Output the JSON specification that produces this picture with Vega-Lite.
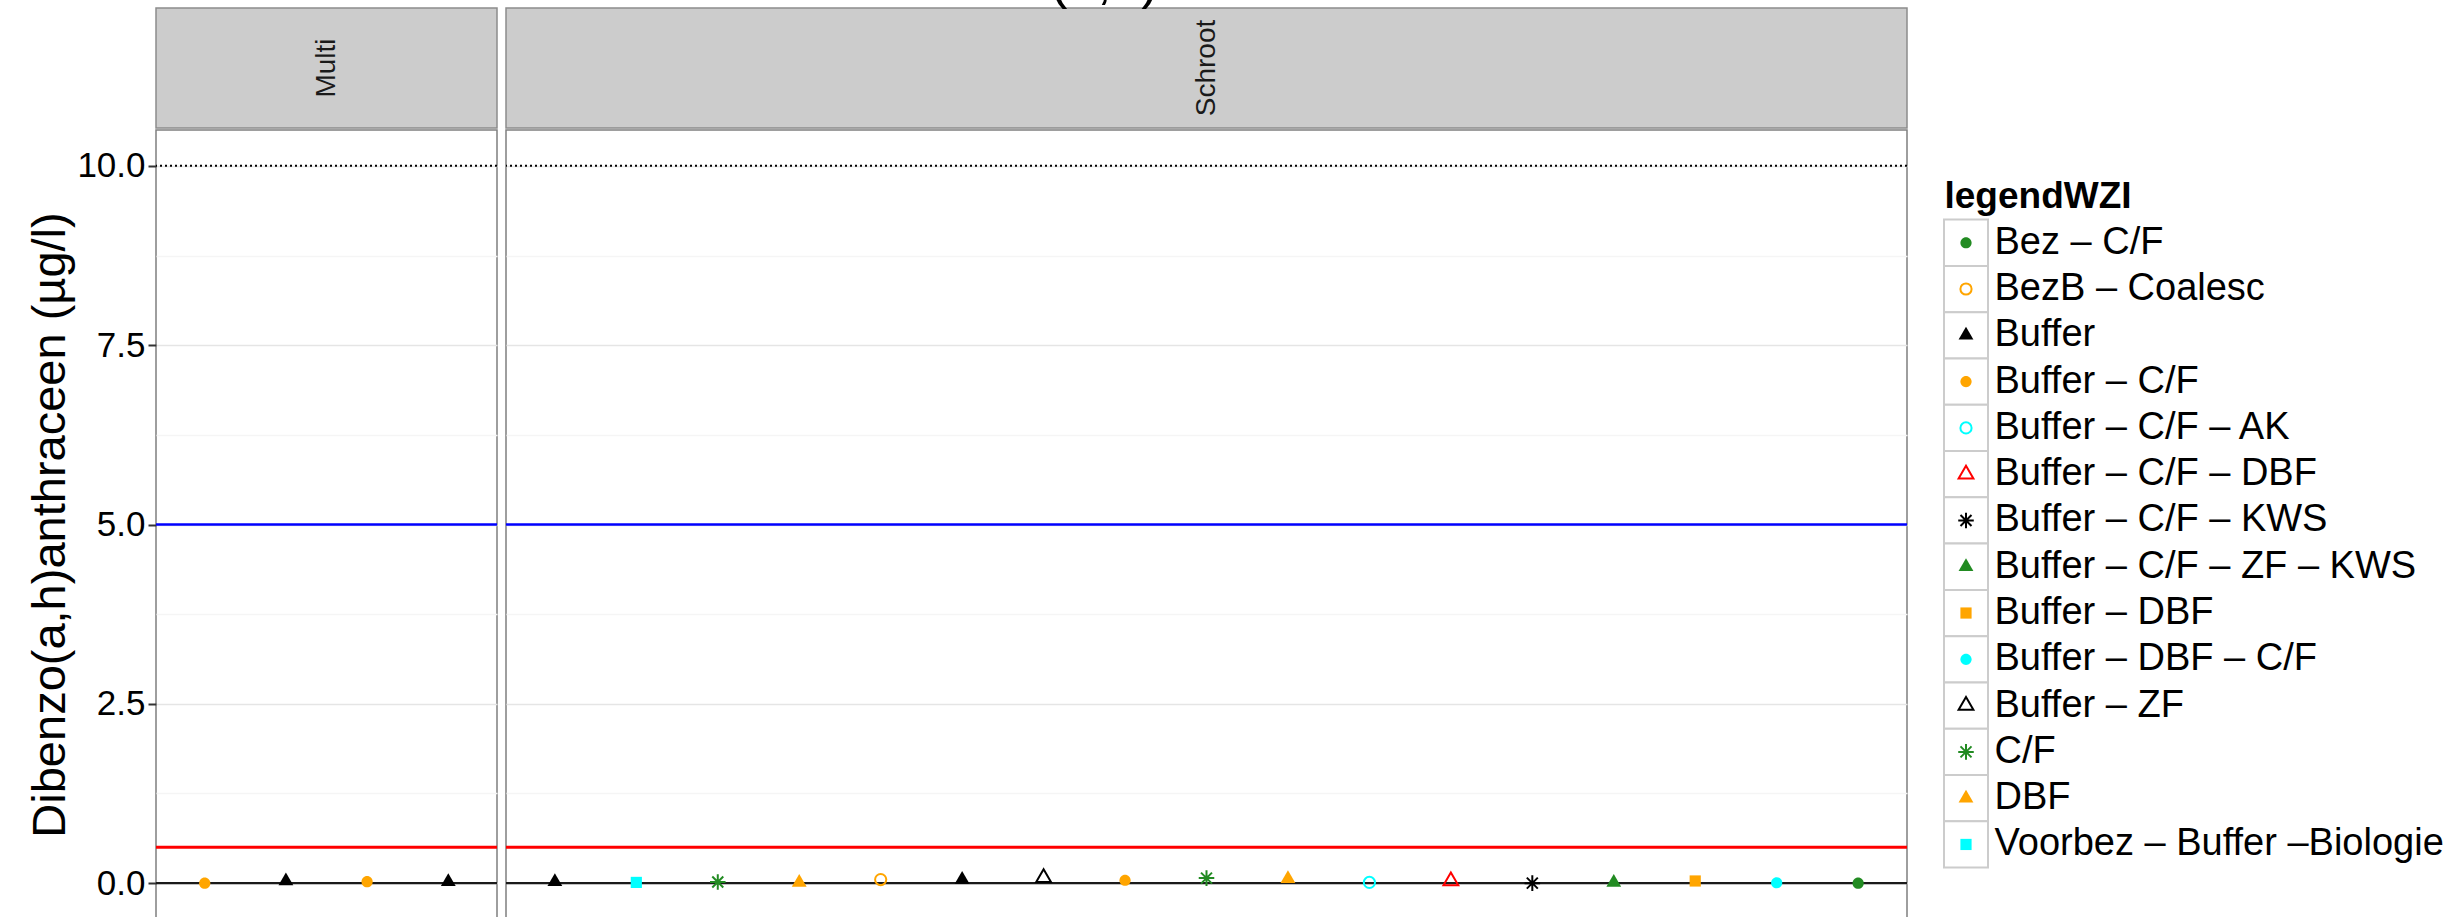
{
  "$schema": "https://vega.github.io/schema/vega-lite/v6.json",
  "autosize": {"type": "pad"},
  "padding": {"left": 26, "top": -44, "right": 0, "bottom": 0},
  "background": "white",
  "title": {"text": "Dibenzo(a,h)anthraceen", "fontSize": 53, "font": "Liberation Sans", "fontWeight": "normal", "baseline": "alphabetic", "offset": -44, "anchor": "middle", "dx": -95, "color": "black"},
  "config": {
    "font": "Liberation Sans",
    "view": {"stroke": null}
  },
  "datasets": {
    "pts": [
      {"type": "Multi", "nr": 1, "legendWZI": "Buffer – C/F", "value": 0.0},
      {"type": "Multi", "nr": 2, "legendWZI": "Buffer", "value": 0.03},
      {"type": "Multi", "nr": 3, "legendWZI": "Buffer – C/F", "value": 0.02},
      {"type": "Multi", "nr": 4, "legendWZI": "Buffer", "value": 0.02},
      {"type": "Schroot", "nr": 1, "legendWZI": "Buffer", "value": 0.02},
      {"type": "Schroot", "nr": 2, "legendWZI": "Voorbez – Buffer –Biologie", "value": 0.01},
      {"type": "Schroot", "nr": 3, "legendWZI": "C/F", "value": 0.015},
      {"type": "Schroot", "nr": 4, "legendWZI": "DBF", "value": 0.01},
      {"type": "Schroot", "nr": 5, "legendWZI": "BezB – Coalesc", "value": 0.05},
      {"type": "Schroot", "nr": 6, "legendWZI": "Buffer", "value": 0.05},
      {"type": "Schroot", "nr": 7, "legendWZI": "Buffer – ZF", "value": 0.075},
      {"type": "Schroot", "nr": 8, "legendWZI": "Buffer – C/F", "value": 0.04},
      {"type": "Schroot", "nr": 9, "legendWZI": "C/F", "value": 0.07},
      {"type": "Schroot", "nr": 10, "legendWZI": "DBF", "value": 0.06},
      {"type": "Schroot", "nr": 11, "legendWZI": "Buffer – C/F – AK", "value": 0.01},
      {"type": "Schroot", "nr": 12, "legendWZI": "Buffer – C/F – DBF", "value": 0.03},
      {"type": "Schroot", "nr": 13, "legendWZI": "Buffer – C/F – KWS", "value": 0.0},
      {"type": "Schroot", "nr": 14, "legendWZI": "Buffer – C/F – ZF – KWS", "value": 0.01},
      {"type": "Schroot", "nr": 15, "legendWZI": "Buffer – DBF", "value": 0.03},
      {"type": "Schroot", "nr": 16, "legendWZI": "Buffer – DBF – C/F", "value": 0.005},
      {"type": "Schroot", "nr": 17, "legendWZI": "Bez – C/F", "value": 0.0}
    ],
    "limits": [
      {"limit": 10, "kind": "dotted"},
      {"limit": 5, "kind": "blue"},
      {"limit": 0.5, "kind": "red"},
      {"limit": 0, "kind": "zero"}
    ],
    "cats": [
      {"legendWZI": "Bez – C/F"},
      {"legendWZI": "BezB – Coalesc"},
      {"legendWZI": "Buffer"},
      {"legendWZI": "Buffer – C/F"},
      {"legendWZI": "Buffer – C/F – AK"},
      {"legendWZI": "Buffer – C/F – DBF"},
      {"legendWZI": "Buffer – C/F – KWS"},
      {"legendWZI": "Buffer – C/F – ZF – KWS"},
      {"legendWZI": "Buffer – DBF"},
      {"legendWZI": "Buffer – DBF – C/F"},
      {"legendWZI": "Buffer – ZF"},
      {"legendWZI": "C/F"},
      {"legendWZI": "DBF"},
      {"legendWZI": "Voorbez – Buffer –Biologie"}
    ]
  },
  "hconcat": [
    {
      "spacing": 3,
      "hconcat": [
        {
          "spacing": 0,
          "vconcat": [
            {
              "data": {"values": [{"type": "Multi"}]},
              "width": 341, "height": 120,
              "view": {"fill": "#CCCCCC", "stroke": "#8C8C8C", "strokeWidth": 1.5},
              "mark": {"type": "text", "angle": 270, "fontSize": 28, "color": "#1A1A1A"},
              "encoding": {"text": {"field": "type"}}
            },
            {
              "width": 341, "height": 789,
              "view": {"fill": "white", "stroke": "#7F7F7F", "strokeWidth": 1.5},
              "layer": [
                {
                  "data": {"name": "limits"},
                  "transform": [{"filter": "datum.kind === 'dotted'"}],
                  "mark": {"type": "rule", "color": "black", "strokeWidth": 2, "strokeDash": [2, 3]},
                  "encoding": {
                    "y": {
                      "field": "limit", "type": "quantitative",
                      "scale": {"domain": [-0.5, 10.5], "nice": false, "zero": false},
                      "title": "Dibenzo(a,h)anthraceen (µg/l)",
                      "axis": {
                        "values": [0, 1.25, 2.5, 3.75, 5, 6.25, 7.5, 8.75, 10],
                        "labelExpr": "datum.value % 2.5 === 0 ? format(datum.value, '.1f') : ''",
                        "gridColor": {"condition": {"test": "datum.value % 2.5 === 0", "value": "#E5E5E5"}, "value": "#F5F5F5"},
                        "tickColor": {"condition": {"test": "datum.value % 2.5 === 0", "value": "#333333"}, "value": "transparent"},
                        "gridWidth": 1.5,
                        "tickSize": 8, "tickWidth": 2,
                        "labelFontSize": 35, "labelColor": "black", "labelPadding": 3,
                        "domain": false,
                        "titleFontSize": 47, "titleFontWeight": "normal", "titleColor": "black", "titlePadding": 2
                      }
                    }
                  }
                },
                {
                  "data": {"name": "limits"},
                  "transform": [{"filter": "datum.kind === 'blue'"}],
                  "mark": {"type": "rule", "color": "#0000FF", "strokeWidth": 2.5},
                  "encoding": {"y": {"field": "limit", "type": "quantitative"}}
                },
                {
                  "data": {"name": "limits"},
                  "transform": [{"filter": "datum.kind === 'red'"}],
                  "mark": {"type": "rule", "color": "#FF0000", "strokeWidth": 3},
                  "encoding": {"y": {"field": "limit", "type": "quantitative"}}
                },
                {
                  "data": {"name": "limits"},
                  "transform": [{"filter": "datum.kind === 'zero'"}],
                  "mark": {"type": "rule", "color": "#1A1A1A", "strokeWidth": 2.2},
                  "encoding": {"y": {"field": "limit", "type": "quantitative"}}
                },
                {
                  "data": {"name": "pts"},
                  "transform": [{"filter": "datum.type === 'Multi'"}],
                  "mark": {"type": "point", "size": 292, "strokeWidth": 2, "opacity": 1},
                  "encoding": {
                    "x": {"field": "nr", "type": "ordinal", "scale": {"type": "point", "padding": 0.6}, "axis": null},
                    "y": {"field": "value", "type": "quantitative"},
                    "shape": {"field": "legendWZI", "type": "nominal", "legend": null,
                      "scale": {"domain": ["Bez – C/F", "BezB – Coalesc", "Buffer", "Buffer – C/F", "Buffer – C/F – AK", "Buffer – C/F – DBF", "Buffer – C/F – KWS", "Buffer – C/F – ZF – KWS", "Buffer – DBF", "Buffer – DBF – C/F", "Buffer – ZF", "C/F", "DBF", "Voorbez – Buffer –Biologie"],
                        "range": [
                          "M0.655,0A0.655,0.655,0,1,1,-0.655,0A0.655,0.655,0,1,1,0.655,0Z",
                          "M0.655,0A0.655,0.655,0,1,1,-0.655,0A0.655,0.655,0,1,1,0.655,0Z",
                          "M0,-1L0.866,0.5L-0.866,0.5Z",
                          "M0.655,0A0.655,0.655,0,1,1,-0.655,0A0.655,0.655,0,1,1,0.655,0Z",
                          "M0.655,0A0.655,0.655,0,1,1,-0.655,0A0.655,0.655,0,1,1,0.655,0Z",
                          "M0,-1L0.866,0.5L-0.866,0.5Z",
                          "M-0.91,0H0.91M0,-0.91V0.91M-0.643,-0.643L0.643,0.643M-0.643,0.643L0.643,-0.643",
                          "M0,-1L0.866,0.5L-0.866,0.5Z",
                          "M-0.655,-0.655H0.655V0.655H-0.655Z",
                          "M0.655,0A0.655,0.655,0,1,1,-0.655,0A0.655,0.655,0,1,1,0.655,0Z",
                          "M0,-1L0.866,0.5L-0.866,0.5Z",
                          "M-0.91,0H0.91M0,-0.91V0.91M-0.643,-0.643L0.643,0.643M-0.643,0.643L0.643,-0.643",
                          "M0,-1L0.866,0.5L-0.866,0.5Z",
                          "M-0.655,-0.655H0.655V0.655H-0.655Z"
                        ]}},
                    "fill": {"field": "legendWZI", "type": "nominal", "legend": null,
                      "scale": {"domain": ["Bez – C/F", "BezB – Coalesc", "Buffer", "Buffer – C/F", "Buffer – C/F – AK", "Buffer – C/F – DBF", "Buffer – C/F – KWS", "Buffer – C/F – ZF – KWS", "Buffer – DBF", "Buffer – DBF – C/F", "Buffer – ZF", "C/F", "DBF", "Voorbez – Buffer –Biologie"],
                        "range": ["#228B22", "transparent", "#000000", "#FFA500", "transparent", "transparent", "transparent", "#228B22", "#FFA500", "#00FFFF", "transparent", "transparent", "#FFA500", "#00FFFF"]}},
                    "stroke": {"field": "legendWZI", "type": "nominal", "legend": null,
                      "scale": {"domain": ["Bez – C/F", "BezB – Coalesc", "Buffer", "Buffer – C/F", "Buffer – C/F – AK", "Buffer – C/F – DBF", "Buffer – C/F – KWS", "Buffer – C/F – ZF – KWS", "Buffer – DBF", "Buffer – DBF – C/F", "Buffer – ZF", "C/F", "DBF", "Voorbez – Buffer –Biologie"],
                        "range": ["transparent", "#FFA500", "transparent", "transparent", "#00FFFF", "#FF0000", "#000000", "transparent", "transparent", "transparent", "#000000", "#228B22", "transparent", "transparent"]}}
                  }
                }
              ]
            }
          ]
        },
        {
          "spacing": 0,
          "vconcat": [
            {
              "data": {"values": [{"type": "Schroot"}]},
              "width": 1401, "height": 120,
              "view": {"fill": "#CCCCCC", "stroke": "#8C8C8C", "strokeWidth": 1.5},
              "mark": {"type": "text", "angle": 270, "fontSize": 28, "color": "#1A1A1A"},
              "encoding": {"text": {"field": "type"}}
            },
            {
              "width": 1401, "height": 789,
              "view": {"fill": "white", "stroke": "#7F7F7F", "strokeWidth": 1.5},
              "layer": [
                {
                  "data": {"name": "limits"},
                  "transform": [{"filter": "datum.kind === 'dotted'"}],
                  "mark": {"type": "rule", "color": "black", "strokeWidth": 2, "strokeDash": [2, 3]},
                  "encoding": {
                    "y": {
                      "field": "limit", "type": "quantitative",
                      "scale": {"domain": [-0.5, 10.5], "nice": false, "zero": false},
                      "title": null,
                      "axis": {
                        "values": [0, 1.25, 2.5, 3.75, 5, 6.25, 7.5, 8.75, 10],
                        "labels": false, "ticks": false, "domain": false,
                        "gridColor": {"condition": {"test": "datum.value % 2.5 === 0", "value": "#E5E5E5"}, "value": "#F5F5F5"},
                        "gridWidth": 1.5
                      }
                    }
                  }
                },
                {
                  "data": {"name": "limits"},
                  "transform": [{"filter": "datum.kind === 'blue'"}],
                  "mark": {"type": "rule", "color": "#0000FF", "strokeWidth": 2.5},
                  "encoding": {"y": {"field": "limit", "type": "quantitative"}}
                },
                {
                  "data": {"name": "limits"},
                  "transform": [{"filter": "datum.kind === 'red'"}],
                  "mark": {"type": "rule", "color": "#FF0000", "strokeWidth": 3},
                  "encoding": {"y": {"field": "limit", "type": "quantitative"}}
                },
                {
                  "data": {"name": "limits"},
                  "transform": [{"filter": "datum.kind === 'zero'"}],
                  "mark": {"type": "rule", "color": "#1A1A1A", "strokeWidth": 2.2},
                  "encoding": {"y": {"field": "limit", "type": "quantitative"}}
                },
                {
                  "data": {"name": "pts"},
                  "transform": [{"filter": "datum.type === 'Schroot'"}],
                  "mark": {"type": "point", "size": 292, "strokeWidth": 2, "opacity": 1},
                  "encoding": {
                    "x": {"field": "nr", "type": "ordinal", "scale": {"type": "point", "padding": 0.6}, "axis": null},
                    "y": {"field": "value", "type": "quantitative"},
                    "shape": {"field": "legendWZI", "type": "nominal", "legend": null},
                    "fill": {"field": "legendWZI", "type": "nominal", "legend": null},
                    "stroke": {"field": "legendWZI", "type": "nominal", "legend": null}
                  }
                }
              ]
            }
          ]
        }
      ]
    },
    {
      "data": {"name": "cats"},
      "width": 44, "height": 909,
      "encoding": {
        "y": {
          "field": "legendWZI", "type": "nominal",
          "scale": {"type": "band", "paddingInner": 0, "paddingOuter": 0, "range": [211.6, 859.6]},
          "axis": {
            "orient": "right", "ticks": false, "domain": false, "grid": false,
            "labelFontSize": 38, "labelColor": "black", "labelPadding": 6, "labelLimit": 0,
            "labelAlign": "left", "labelBaseline": "middle",
            "title": "legendWZI", "titleAngle": 0, "titleAlign": "left", "titleBaseline": "alphabetic",
            "titleX": -44, "titleY": 199, "titleFontSize": 37, "titleFontWeight": "bold", "titleColor": "black"
          }
        }
      },
      "layer": [
        {"mark": {"type": "rect", "fill": "white", "stroke": "#CCCCCC", "strokeWidth": 2}},
        {
          "mark": {"type": "point", "size": 292, "strokeWidth": 2, "opacity": 1},
          "encoding": {
            "shape": {"field": "legendWZI", "type": "nominal", "legend": null},
            "fill": {"field": "legendWZI", "type": "nominal", "legend": null},
            "stroke": {"field": "legendWZI", "type": "nominal", "legend": null}
          }
        }
      ]
    }
  ],
  "spacing": 33
}
